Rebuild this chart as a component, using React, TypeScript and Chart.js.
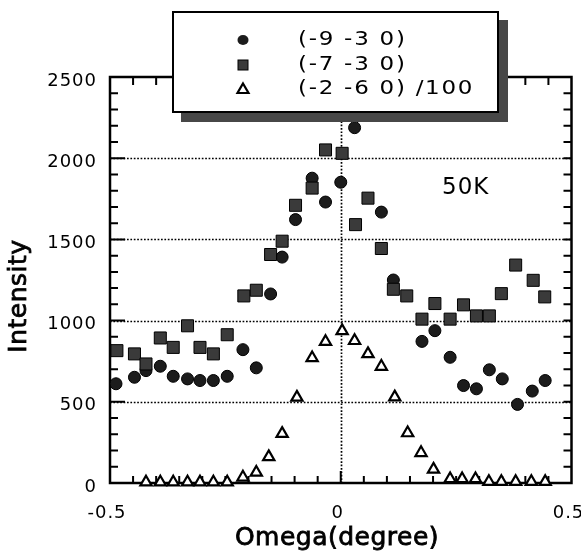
import React, { useEffect, useRef } from 'react';
import { Chart, registerables } from 'chart.js';

Chart.register(...registerables);

// ---- data ----
const seriesLabels = ['(-9 -3 0)', '(-7 -3 0)', '(-2 -6 0) /100'];

const omega930 = [-0.487, -0.447, -0.422, -0.391, -0.363, -0.332, -0.305, -0.276, -0.246, -0.212, -0.183, -0.152, -0.127, -0.098, -0.062, -0.033, 0.0, 0.030, 0.088, 0.114, 0.176, 0.204, 0.237, 0.266, 0.294, 0.322, 0.350, 0.383, 0.415, 0.443];
const int930 = [611, 651, 692, 719, 657, 641, 631, 631, 657, 821, 709, 1164, 1391, 1622, 1877, 1730, 1852, 2188, 1668, 1250, 872, 938, 774, 600, 580, 697, 641, 484, 566, 631];

const omega730 = [-0.485, -0.447, -0.422, -0.391, -0.363, -0.332, -0.305, -0.276, -0.246, -0.210, -0.183, -0.152, -0.127, -0.098, -0.062, -0.033, 0.003, 0.032, 0.059, 0.088, 0.114, 0.143, 0.176, 0.204, 0.237, 0.266, 0.294, 0.322, 0.348, 0.379, 0.417, 0.442];
const int730 = [815, 795, 733, 893, 835, 968, 835, 795, 913, 1152, 1187, 1407, 1489, 1710, 1816, 2051, 2030, 1591, 1754, 1444, 1193, 1152, 1009, 1105, 1009, 1097, 1029, 1029, 1166, 1342, 1248, 1146];

const omega260 = [-0.422, -0.391, -0.363, -0.332, -0.305, -0.276, -0.246, -0.212, -0.183, -0.156, -0.127, -0.095, -0.062, -0.033, 0.003, 0.030, 0.059, 0.088, 0.117, 0.145, 0.174, 0.201, 0.237, 0.263, 0.292, 0.321, 0.348, 0.379, 0.413, 0.443];
const int260 = [5, 5, 5, 5, 5, 5, 5, 35, 65, 161, 304, 527, 770, 870, 937, 876, 795, 717, 529, 308, 186, 84, 25, 25, 25, 8, 8, 8, 8, 8];

const xMin = -0.5;
const xMax = 0.5;
const yMin = 0;
const yMax = 2500;
const xMajorStep = 0.5;
const xMinorStep = 0.05;
const yMajorStep = 500;
const yMinorStep = 100;
const xTitle = 'Omega(degree)';
const yTitle = 'Intensity';
const tempLabel = '50K';

const FONT = '"DejaVu Sans", Verdana, sans-serif';

const toPoints = (xs: number[], ys: number[]) => xs.map((x, i) => ({ x, y: ys[i] }));

const heavyText = (ctx: CanvasRenderingContext2D, t: string, x: number, y: number) => {
  ctx.fillText(t, x, y);
  ctx.lineWidth = 0.8;
  ctx.strokeStyle = '#000';
  ctx.strokeText(t, x, y);
};

const decorPlugin = {
  id: 'decor',
  beforeDraw(chart: any) {
    chart.ctx.letterSpacing = '1px';
  },
  beforeDatasetsDraw(chart: any) {
    const { ctx, chartArea, scales } = chart;
    const { left, right, top, bottom } = chartArea;
    const xs = scales.x;
    const ys = scales.y;
    ctx.save();
    ctx.strokeStyle = '#000';
    // dotted grid
    ctx.lineWidth = 1.7;
    ctx.setLineDash([1.7, 1.7]);
    for (let v = yMin + yMajorStep; v < yMax; v += yMajorStep) {
      const py = Math.round(ys.getPixelForValue(v)) + 0.5;
      ctx.beginPath();
      ctx.moveTo(left, py);
      ctx.lineTo(right, py);
      ctx.stroke();
    }
    const px0 = Math.round(xs.getPixelForValue(0)) + 0.5;
    ctx.beginPath();
    ctx.moveTo(px0, top);
    ctx.lineTo(px0, bottom);
    ctx.stroke();
    ctx.setLineDash([]);
    // inner ticks
    ctx.lineWidth = 2;
    const nY = Math.round((yMax - yMin) / yMinorStep);
    for (let i = 1; i < nY; i++) {
      const v = yMin + i * yMinorStep;
      const py = ys.getPixelForValue(v);
      const major = Math.abs(v % yMajorStep) < 1e-6;
      ctx.beginPath();
      ctx.moveTo(left, py);
      ctx.lineTo(left + (major ? 15 : 8), py);
      ctx.moveTo(right, py);
      ctx.lineTo(right - 8, py);
      ctx.stroke();
    }
    const nX = Math.round((xMax - xMin) / xMinorStep);
    for (let i = 1; i < nX; i++) {
      const v = xMin + i * xMinorStep;
      const px = xs.getPixelForValue(v);
      const isZero = Math.abs(v) < 1e-6;
      ctx.beginPath();
      ctx.moveTo(px, bottom);
      ctx.lineTo(px, bottom - (isZero ? 12 : 7));
      ctx.moveTo(px, top);
      ctx.lineTo(px, top + 8);
      ctx.stroke();
    }
    // frame
    ctx.lineWidth = 2.5;
    ctx.strokeRect(left, top, right - left, bottom - top);
    ctx.restore();
  },
  afterDraw(chart: any) {
    const { ctx } = chart;
    ctx.save();
    ctx.letterSpacing = '0px';
    // legend box with shadow
    const bx = 173, by = 12, bw = 325, bh = 100;
    ctx.fillStyle = '#474747';
    ctx.fillRect(bx + 8, by + 8, bw + 2, bh + 2);
    ctx.fillStyle = '#fff';
    ctx.fillRect(bx, by, bw, bh);
    ctx.strokeStyle = '#000';
    ctx.lineWidth = 2;
    ctx.strokeRect(bx, by, bw, bh);
    const mx = 243;
    const rows = [40, 65, 89];
    // circle
    ctx.fillStyle = '#1c1c1c';
    ctx.beginPath();
    ctx.ellipse(mx, rows[0], 5.5, 5, 0, 0, Math.PI * 2);
    ctx.fill();
    // square
    ctx.fillStyle = '#3a3a3a';
    ctx.fillRect(mx - 5, rows[1] - 5, 10, 10);
    ctx.lineWidth = 1;
    ctx.strokeRect(mx - 5, rows[1] - 5, 10, 10);
    // triangle
    ctx.lineWidth = 2.2;
    ctx.beginPath();
    ctx.moveTo(mx, rows[2] - 5.5);
    ctx.lineTo(mx + 5.5, rows[2] + 4);
    ctx.lineTo(mx - 5.5, rows[2] + 4);
    ctx.closePath();
    ctx.fillStyle = '#fff';
    ctx.fill();
    ctx.stroke();
    // legend texts (wide face, like the original)
    ctx.fillStyle = '#000';
    ctx.font = `20px ${FONT}`;
    ctx.letterSpacing = '1.5px';
    ctx.textAlign = 'left';
    ctx.textBaseline = 'middle';
    seriesLabels.forEach((t, i) => {
      ctx.save();
      ctx.translate(298, rows[i]);
      ctx.scale(1.15, 1);
      ctx.fillText(t, 0, 0);
      ctx.restore();
    });
    // 50K
    ctx.font = `23px ${FONT}`;
    ctx.letterSpacing = '1px';
    ctx.fillText(tempLabel, 442, 188);
    // axis titles
    ctx.letterSpacing = '0.5px';
    ctx.font = `25px ${FONT}`;
    ctx.textAlign = 'center';
    heavyText(ctx, xTitle, 337, 538);
    ctx.save();
    ctx.translate(19, 296);
    ctx.rotate(-Math.PI / 2);
    heavyText(ctx, yTitle, 0, 0);
    ctx.restore();
    ctx.restore();
  },
};

export default function App() {
  const ref = useRef<HTMLCanvasElement | null>(null);
  useEffect(() => {
    document.body.style.margin = '0';
    const canvas = ref.current;
    if (!canvas) return;
    const chart = new Chart(canvas, {
      type: 'scatter',
      data: {
        datasets: [
          {
            label: seriesLabels[1],
            data: toPoints(omega730, int730),
            pointStyle: 'rect',
            pointRadius: 8.5,
            backgroundColor: '#3a3a3a',
            borderColor: '#000',
            borderWidth: 1,
            clip: false,
          },
          {
            label: seriesLabels[0],
            data: toPoints(omega930, int930),
            pointStyle: 'circle',
            pointRadius: 6,
            backgroundColor: '#1c1c1c',
            borderColor: '#000',
            borderWidth: 1,
            clip: false,
          },
          {
            label: seriesLabels[2],
            data: toPoints(omega260, int260),
            pointStyle: 'triangle',
            pointRadius: 6.5,
            backgroundColor: '#fff',
            borderColor: '#000',
            borderWidth: 2.2,
            clip: false,
          },
        ],
      },
      options: {
        animation: false,
        responsive: false,
        devicePixelRatio: 1,
        layout: { padding: { top: 77, right: 8, left: 0, bottom: 0 } },
        plugins: { legend: { display: false }, tooltip: { enabled: false } },
        scales: {
          x: {
            type: 'linear',
            min: xMin,
            max: xMax,
            grid: { display: false, drawTicks: false },
            border: { display: false },
            ticks: {
              stepSize: xMajorStep,
              padding: 20,
              labelOffset: -3,
              color: '#000',
              font: { family: FONT, size: 18 },
              callback: (v: any) => (Math.abs(v) < 1e-9 ? '0' : Number(v).toFixed(1)),
            },
            afterFit: (s: any) => {
              s.height = 72;
              s.paddingLeft = 0;
              s.paddingRight = 0;
            },
          },
          y: {
            type: 'linear',
            min: yMin,
            max: yMax,
            grid: { display: false, drawTicks: false },
            border: { display: false },
            ticks: {
              stepSize: yMajorStep,
              padding: 13,
              labelOffset: 4,
              color: '#000',
              font: { family: FONT, size: 18 },
              callback: (v: any) => String(v),
            },
            afterFit: (s: any) => {
              s.width = 110;
              s.paddingTop = 0;
              s.paddingBottom = 0;
            },
          },
        },
      },
      plugins: [decorPlugin],
    });
    return () => chart.destroy();
  }, []);
  return (
    <div style={{ width: 581, height: 555, position: 'relative' }}>
      <canvas ref={ref} width={581} height={555} style={{ position: 'absolute', left: 0, top: 0 }} />
    </div>
  );
}
